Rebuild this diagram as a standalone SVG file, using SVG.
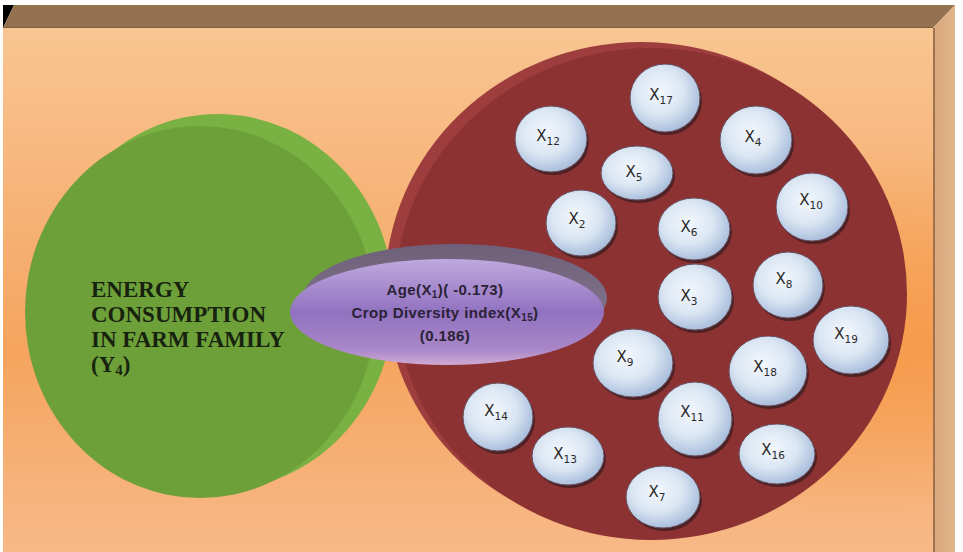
<svg xmlns="http://www.w3.org/2000/svg" width="963" height="552" viewBox="0 0 963 552">
  <defs>
    <linearGradient id="wall" x1="0" y1="0" x2="0" y2="1">
      <stop offset="0" stop-color="#f8c592"/>
      <stop offset="0.45" stop-color="#f6ad6e"/>
      <stop offset="0.62" stop-color="#f5a45e"/>
      <stop offset="1" stop-color="#f7b988"/>
    </linearGradient>
    <radialGradient id="hot" cx="0.92" cy="0.58" r="0.35">
      <stop offset="0" stop-color="#f59640" stop-opacity="0.7"/>
      <stop offset="1" stop-color="#f59640" stop-opacity="0"/>
    </radialGradient>
    <linearGradient id="side" x1="0" y1="0" x2="1" y2="0">
      <stop offset="0" stop-color="#d9a87c"/>
      <stop offset="1" stop-color="#e2b48a"/>
    </linearGradient>
    <linearGradient id="lensFace" x1="0" y1="0" x2="0" y2="1">
      <stop offset="0" stop-color="#bfa9de"/>
      <stop offset="0.5" stop-color="#9272c0"/>
      <stop offset="0.85" stop-color="#a886c8"/>
      <stop offset="1" stop-color="#d0aad4"/>
    </linearGradient>
    <linearGradient id="lensRim" x1="0" y1="0" x2="0" y2="1">
      <stop offset="0" stop-color="#6e6078"/>
      <stop offset="1" stop-color="#8c7c98"/>
    </linearGradient>
    <radialGradient id="bead" cx="0.42" cy="0.4" r="0.62">
      <stop offset="0" stop-color="#f3f7fc"/>
      <stop offset="0.55" stop-color="#dbe6f3"/>
      <stop offset="1" stop-color="#a7bddb"/>
    </radialGradient>
    <style>
      .shadow { fill: #3a1c22; opacity: 0.75; }
      .bead { fill: url(#bead); stroke: #6a5060; stroke-width: 1; }
      .lbl { font-family: "DejaVu Sans", Verdana, sans-serif; font-size: 15px; fill: #2a2a2a; text-anchor: middle; }
      .sub { font-size: 10.5px; }
      .title { font-family: "Liberation Serif", "Times New Roman", serif; font-weight: bold; font-size: 23px; fill: #17230e; }
      .lens { font-family: "Liberation Sans", Arial, sans-serif; font-weight: bold; font-size: 15px; fill: #2a2236; text-anchor: middle; letter-spacing: 0.4px; }
    </style>
  </defs>

  <!-- box: top bevel, front wall, right side -->
  <rect x="0" y="0" width="963" height="552" fill="#ffffff"/>
  <polygon points="3,5 14,5 3,28" fill="#000000"/>
  <polygon points="14,5 955,5 933,28 3,28" fill="#94714f"/>
  <line x1="3" y1="28" x2="933" y2="28" stroke="#7a5738" stroke-width="1.5"/>
  <rect x="3" y="28" width="930" height="524" fill="url(#wall)"/>
  <rect x="3" y="28" width="930" height="524" fill="url(#hot)"/>
  <polygon points="933,28 955,5 955,552 933,552" fill="url(#side)"/>
  <line x1="934" y1="28" x2="934" y2="552" stroke="#8a6040" stroke-width="1.5"/>

  <!-- dependent variable disc -->
  <g id="energy">
    <ellipse cx="218" cy="302" rx="176" ry="188" fill="#79b142"/>
    <ellipse cx="200" cy="312" rx="175" ry="186" fill="#6ea03a"/>
    <text class="title" x="91" y="297">ENERGY</text>
    <text class="title" x="91" y="322">CONSUMPTION</text>
    <text class="title" x="91" y="347">IN FARM FAMILY</text>
    <text class="title" x="91" y="372">(Y<tspan font-size="15" dy="3">4</tspan><tspan dy="-3">)</tspan></text>
  </g>

  <!-- independent variables disc -->
  <g id="variables">
    <ellipse cx="641" cy="288" rx="256" ry="246" fill="#9e3d3d"/>
    <ellipse cx="651" cy="294" rx="256" ry="246" fill="#8d3232"/>
  </g>

  <g id="x17"><ellipse class="shadow" cx="667" cy="101" rx="35" ry="34"/><ellipse class="bead" cx="665" cy="98" rx="35" ry="34"/><text class="lbl" x="661" y="100">X<tspan class="sub" dy="4">17</tspan></text></g>
  <g id="x12"><ellipse class="shadow" cx="553" cy="142" rx="36" ry="33"/><ellipse class="bead" cx="551" cy="139" rx="36" ry="33"/><text class="lbl" x="548" y="141">X<tspan class="sub" dy="4">12</tspan></text></g>
  <g id="x4"><ellipse class="shadow" cx="758" cy="143" rx="36" ry="34"/><ellipse class="bead" cx="756" cy="140" rx="36" ry="34"/><text class="lbl" x="753" y="142">X<tspan class="sub" dy="4">4</tspan></text></g>
  <g id="x5"><ellipse class="shadow" cx="639" cy="176" rx="36" ry="27"/><ellipse class="bead" cx="637" cy="173" rx="36" ry="27"/><text class="lbl" x="634" y="177">X<tspan class="sub" dy="4">5</tspan></text></g>
  <g id="x10"><ellipse class="shadow" cx="814" cy="210" rx="36" ry="34"/><ellipse class="bead" cx="812" cy="207" rx="36" ry="34"/><text class="lbl" x="811" y="205">X<tspan class="sub" dy="4">10</tspan></text></g>
  <g id="x2"><ellipse class="shadow" cx="583" cy="226" rx="35" ry="33"/><ellipse class="bead" cx="581" cy="223" rx="35" ry="33"/><text class="lbl" x="577" y="224">X<tspan class="sub" dy="4">2</tspan></text></g>
  <g id="x6"><ellipse class="shadow" cx="696" cy="232" rx="36" ry="31"/><ellipse class="bead" cx="694" cy="229" rx="36" ry="31"/><text class="lbl" x="689" y="232">X<tspan class="sub" dy="4">6</tspan></text></g>
  <g id="x8"><ellipse class="shadow" cx="790" cy="288" rx="35" ry="33"/><ellipse class="bead" cx="788" cy="285" rx="35" ry="33"/><text class="lbl" x="784" y="284">X<tspan class="sub" dy="4">8</tspan></text></g>
  <g id="x3"><ellipse class="shadow" cx="697" cy="300" rx="37" ry="33"/><ellipse class="bead" cx="695" cy="297" rx="37" ry="33"/><text class="lbl" x="689" y="301">X<tspan class="sub" dy="4">3</tspan></text></g>
  <g id="x19"><ellipse class="shadow" cx="853" cy="343" rx="38" ry="34"/><ellipse class="bead" cx="851" cy="340" rx="38" ry="34"/><text class="lbl" x="846" y="339">X<tspan class="sub" dy="4">19</tspan></text></g>
  <g id="x9"><ellipse class="shadow" cx="635" cy="366" rx="40" ry="34"/><ellipse class="bead" cx="633" cy="363" rx="40" ry="34"/><text class="lbl" x="625" y="362">X<tspan class="sub" dy="4">9</tspan></text></g>
  <g id="x18"><ellipse class="shadow" cx="770" cy="374" rx="39" ry="35"/><ellipse class="bead" cx="768" cy="371" rx="39" ry="35"/><text class="lbl" x="765" y="372">X<tspan class="sub" dy="4">18</tspan></text></g>
  <g id="x14"><ellipse class="shadow" cx="500" cy="420" rx="35" ry="34"/><ellipse class="bead" cx="498" cy="417" rx="35" ry="34"/><text class="lbl" x="496" y="416">X<tspan class="sub" dy="4">14</tspan></text></g>
  <g id="x11"><ellipse class="shadow" cx="697" cy="422" rx="37" ry="37"/><ellipse class="bead" cx="695" cy="419" rx="37" ry="37"/><text class="lbl" x="692" y="417">X<tspan class="sub" dy="4">11</tspan></text></g>
  <g id="x13"><ellipse class="shadow" cx="570" cy="459" rx="36" ry="29"/><ellipse class="bead" cx="568" cy="456" rx="36" ry="29"/><text class="lbl" x="565" y="459">X<tspan class="sub" dy="4">13</tspan></text></g>
  <g id="x16"><ellipse class="shadow" cx="779" cy="457" rx="38" ry="30"/><ellipse class="bead" cx="777" cy="454" rx="38" ry="30"/><text class="lbl" x="773" y="455">X<tspan class="sub" dy="4">16</tspan></text></g>
  <g id="x7"><ellipse class="shadow" cx="665" cy="500" rx="37" ry="31"/><ellipse class="bead" cx="663" cy="497" rx="37" ry="31"/><text class="lbl" x="657" y="497">X<tspan class="sub" dy="4">7</tspan></text></g>

  <!-- significant variables lens -->
  <g id="significant">
    <ellipse cx="455" cy="298" rx="152" ry="54" fill="url(#lensRim)"/>
    <ellipse cx="447" cy="312" rx="157" ry="53" fill="url(#lensFace)"/>
    <text class="lens" x="445" y="295">Age(X<tspan font-size="10" dy="3">1</tspan><tspan dy="-3">)( -0.173)</tspan></text>
    <text class="lens" x="445" y="318">Crop Diversity index(X<tspan font-size="10" dy="3">15</tspan><tspan dy="-3">)</tspan></text>
    <text class="lens" x="445" y="341">(0.186)</text>
  </g>
</svg>
